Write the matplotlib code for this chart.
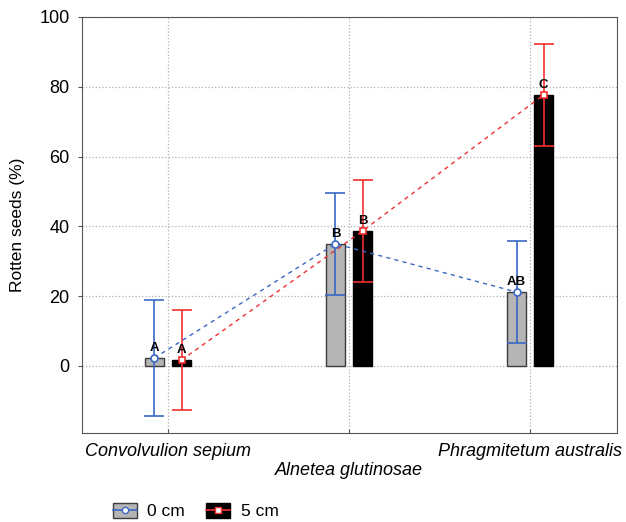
import numpy as np
import matplotlib
matplotlib.use("Agg")
from matplotlib import pyplot as plt
from matplotlib.patches import Patch
from matplotlib.lines import Line2D

plt.rcParams['font.family'] = ['Liberation Sans', 'DejaVu Sans']

# data
categories = ['Convolvulion sepium', 'Alnetea glutinosae', 'Phragmitetum australis']
mean_0cm = [2.3, 35.0, 21.2]
err_0cm = [16.5, 14.7, 14.6]
mean_5cm = [1.7, 38.7, 77.7]
err_5cm = [14.4, 14.7, 14.6]
letters_0cm = ['A', 'B', 'AB']
letters_5cm = ['A', 'B', 'C']
yticks = [0, 20, 40, 60, 80, 100]

blue = '#3a68c4'
red = '#f03030'
off = 0.075
width = 0.105

fig = plt.figure(figsize=(6.26, 5.22), dpi=100)
ax = fig.add_axes([0.131, 0.1705, 0.8546, 0.797])

x = np.arange(len(categories))
x0 = x - off
x5 = x + off

ax.bar(x0, mean_0cm, width=width, color='#b5b5b5', edgecolor='#3c3c3c', linewidth=1, zorder=2)
ax.bar(x5, mean_5cm, width=width, color='black', edgecolor='black', linewidth=1, zorder=2)

ax.errorbar(x0, mean_0cm, yerr=err_0cm, fmt='none', ecolor=blue, elinewidth=1.2,
            capsize=7, capthick=1.2, zorder=3)
ax.errorbar(x5, mean_5cm, yerr=err_5cm, fmt='none', ecolor=red, elinewidth=1.2,
            capsize=7, capthick=1.2, zorder=3)

# dashed lines linking the means
ax.plot(x0, mean_0cm, color=blue, ls=(0, (3, 3)), lw=1, zorder=4)
ax.plot(x5, mean_5cm, color=red, ls=(0, (3, 3)), lw=1, zorder=4)
ax.plot(x0, mean_0cm, 'o', ms=5, mfc='white', mec=blue, mew=1.2, zorder=5)
ax.plot(x5, mean_5cm, 's', ms=5, mfc='white', mec=red, mew=1.2, zorder=5)

for xi, yi, t in zip(x0, mean_0cm, letters_0cm):
    ax.annotate(t, (xi, yi), xytext=(0, 3), textcoords='offset points',
                ha='center', va='bottom', fontsize=9.5, fontweight='bold', zorder=6)
for xi, yi, t in zip(x5, mean_5cm, letters_5cm):
    ax.annotate(t, (xi, yi), xytext=(0, 3), textcoords='offset points',
                ha='center', va='bottom', fontsize=9.5, fontweight='bold', zorder=6)

ax.set_xlim(-0.475, 2.48)
ax.set_ylim(-19.2, 100)
ax.set_yticks(yticks)
ax.set_xticks(x)
ax.set_xticklabels([categories[0], '\n' + categories[1], categories[2]],
                   fontsize=13, style='italic')
ax.tick_params(axis='y', labelsize=13, direction='out', length=3, pad=6, color='#555555')
ax.tick_params(axis='x', direction='in', length=3, pad=7, color='#555555')
ax.grid(True, color='#b0b0b0', ls=':', lw=0.9, zorder=0)
ax.set_axisbelow(True)
for s in ax.spines.values():
    s.set_color('#555555')
ax.set_ylabel('Rotten seeds (%)', fontsize=12.5, labelpad=10)

h0 = (Patch(facecolor='#b5b5b5', edgecolor='#3c3c3c'),
      Line2D([], [], color=blue, lw=1.2, marker='o', ms=4.5, mfc='white', mec=blue))
h5 = (Patch(facecolor='black', edgecolor='black'),
      Line2D([], [], color=red, lw=1.2, marker='s', ms=4.5, mfc='white', mec=red))
fig.legend([h0, h5], ['0 cm', '5 cm'], loc='lower left', bbox_to_anchor=(0.155, -0.025),
           ncol=2, frameon=False, fontsize=12.5, handlelength=1.4, handleheight=1.0,
           columnspacing=1.2, handletextpad=0.6)

fig.savefig('out.png', dpi=100)
